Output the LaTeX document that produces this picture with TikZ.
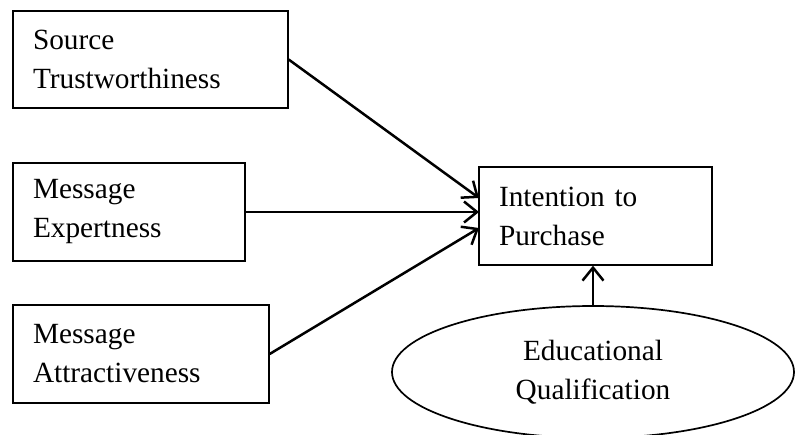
\documentclass[tikz,border=0pt]{standalone}
\usepackage{fontspec}
\setmainfont{Liberation Serif}
\usetikzlibrary{arrows.meta,shapes.geometric}
\begin{document}
\begin{tikzpicture}[x=1pt,y=-1pt,
  every node/.style={font=\fontsize{29.3}{39}\selectfont},
  varbox/.style={draw, line width=1.3pt, rectangle, inner sep=0pt, align=left},
  conn/.style={line width=2.5pt, -{Straight Barb[length=13pt,width=21pt,line width=2.5pt]}},
  ellnode/.style={draw, line width=1.7pt, ellipse, inner sep=0pt, align=center, minimum width=402pt, minimum height=132pt}]
\useasboundingbox (0,0) rectangle (797,434);
\node[varbox, minimum width=275pt, minimum height=97pt, text width=235pt] (st) at (150.5,59.5) {Source\\Trustworthiness};
\node[varbox, minimum width=232pt, minimum height=98pt, text width=192pt] (me) at (129,212) {Message\\Expertness};
\node[varbox, minimum width=256pt, minimum height=98pt, text width=216pt] (ma) at (141,354) {Message\\Attractiveness};
\node[varbox, minimum width=233pt, minimum height=98pt, text width=193pt] (ip) at (595.5,216) {Intention to\\Purchase};
\node[ellnode] (eq) at (593,372) {Educational\\Qualification};
\coordinate (t1) at (479,198);
\coordinate (t2) at (479,212);
\coordinate (t3) at (479,228);
\draw[conn] (st.east) -- (t1);
\draw[conn] (me.east) -- (t2);
\draw[conn] (ma.east) -- (t3);
\draw[conn] (eq.north) -- (eq.north |- ip.south);
\end{tikzpicture}
\end{document}
